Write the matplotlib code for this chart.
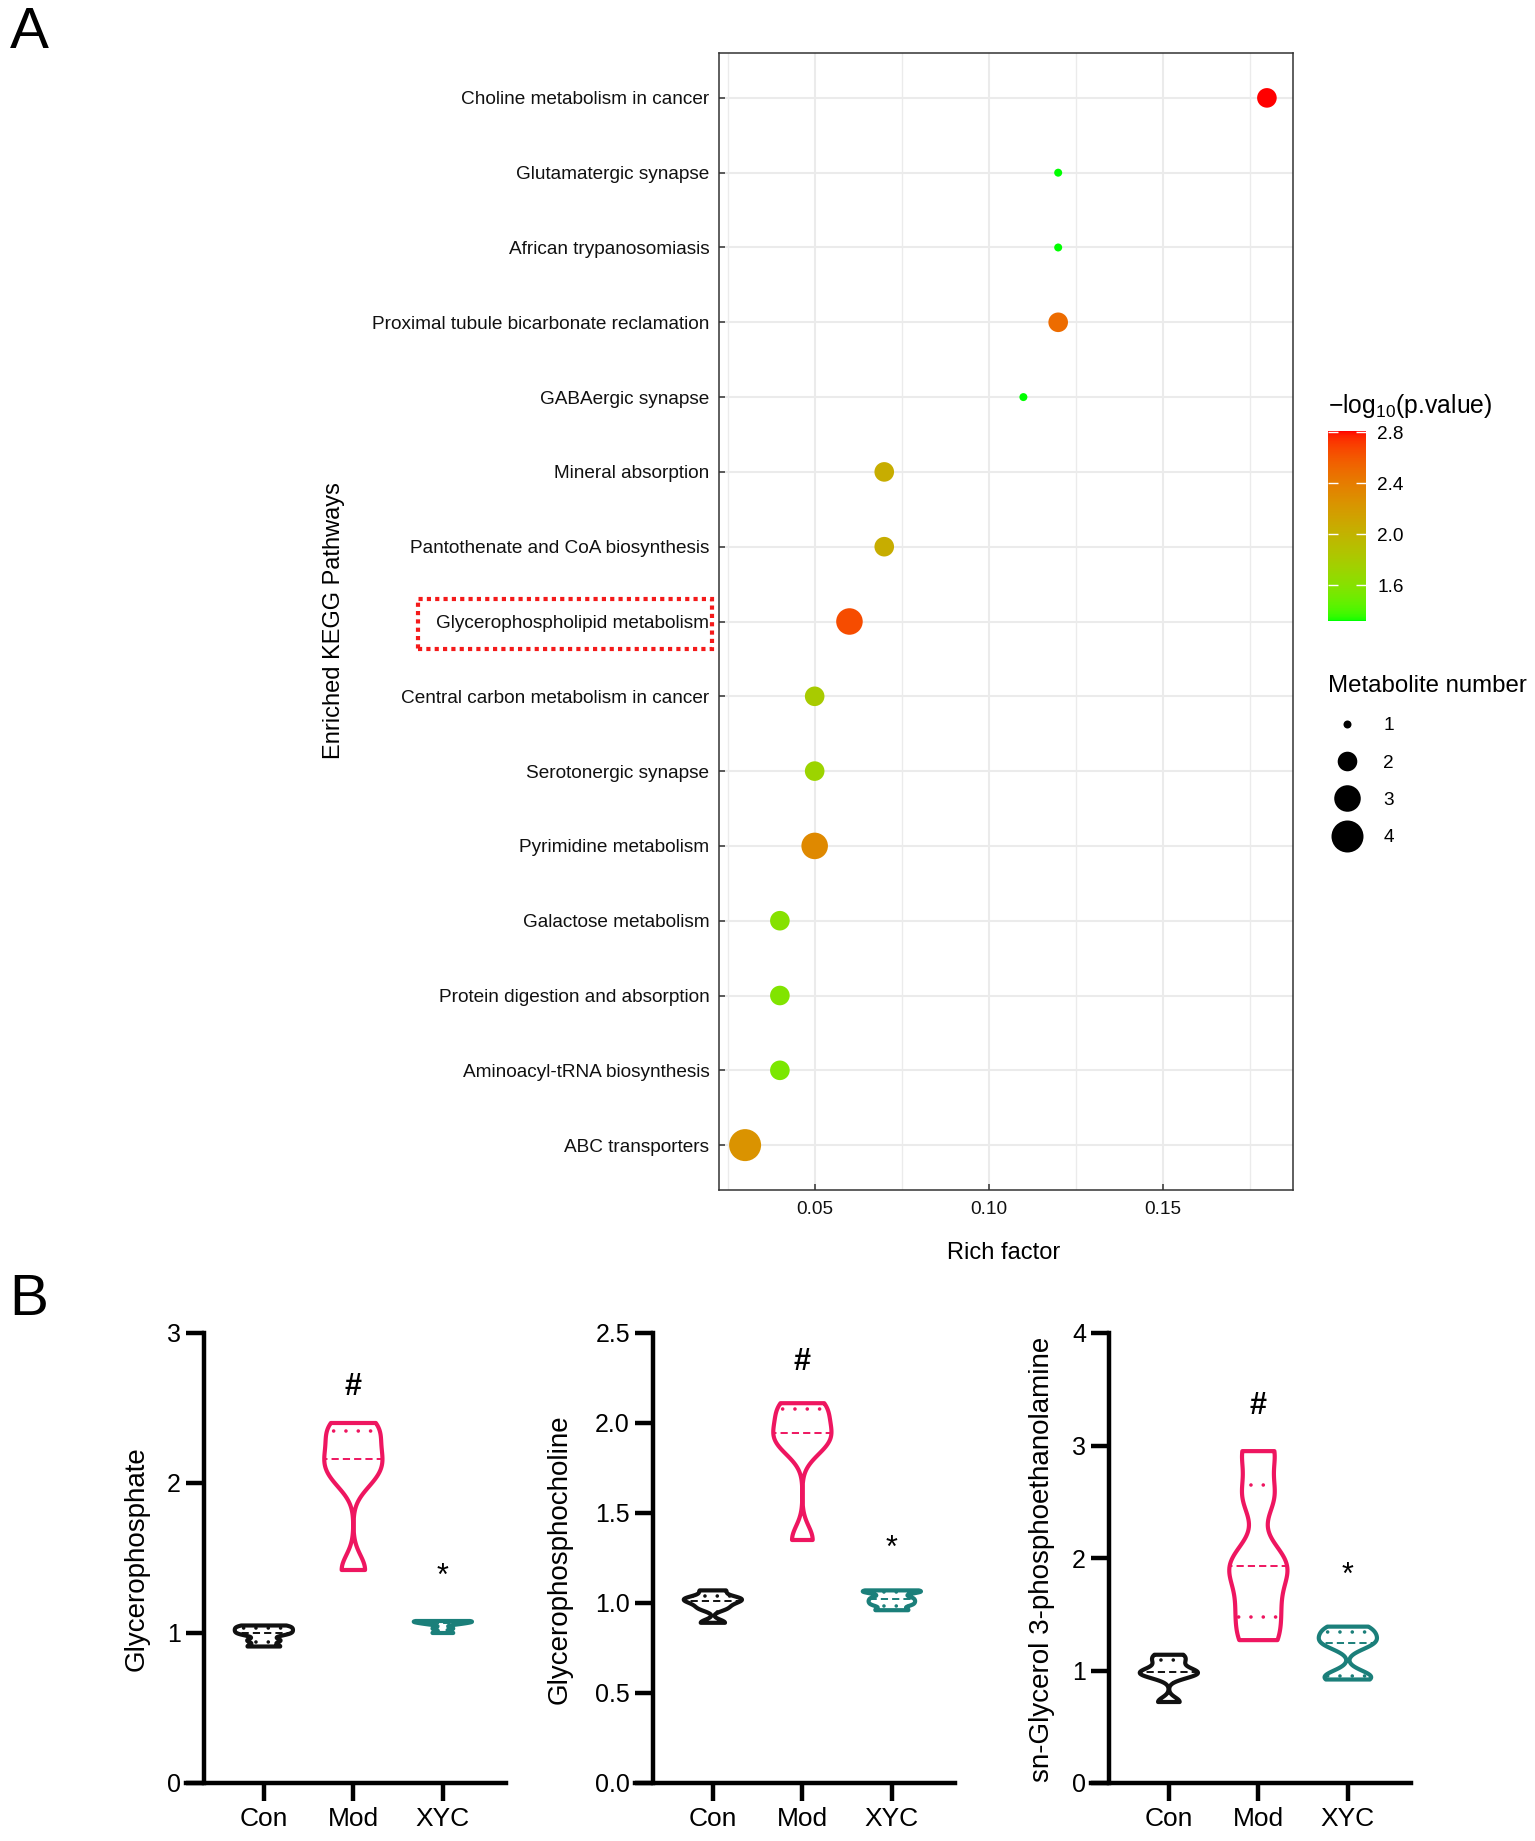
import numpy as np
import matplotlib
matplotlib.use('Agg')
import matplotlib.pyplot as plt
from matplotlib.colors import ListedColormap
from matplotlib.lines import Line2D
from matplotlib.patches import Rectangle
from matplotlib.ticker import FormatStrFormatter

plt.rcParams['font.family'] = ['Liberation Sans', 'DejaVu Sans']
plt.rcParams['mathtext.default'] = 'regular'

# ---- panel A data (KEGG enrichment) ----
pathways = [
    'Choline metabolism in cancer',
    'Glutamatergic synapse',
    'African trypanosomiasis',
    'Proximal tubule bicarbonate reclamation',
    'GABAergic synapse',
    'Mineral absorption',
    'Pantothenate and CoA biosynthesis',
    'Glycerophospholipid metabolism',
    'Central carbon metabolism in cancer',
    'Serotonergic synapse',
    'Pyrimidine metabolism',
    'Galactose metabolism',
    'Protein digestion and absorption',
    'Aminoacyl-tRNA biosynthesis',
    'ABC transporters',
]
rich_factor = [0.18, 0.12, 0.12, 0.12, 0.11, 0.07, 0.07, 0.06, 0.05, 0.05, 0.05, 0.04, 0.04, 0.04, 0.03]
neg_log_p = [2.81, 1.32, 1.32, 2.50, 1.32, 2.05, 2.05, 2.65, 1.80, 1.72, 2.32, 1.60, 1.58, 1.55, 2.25]
metab_num = [2, 1, 1, 2, 1, 2, 2, 3, 2, 2, 3, 2, 2, 2, 4]
highlight = 'Glycerophospholipid metabolism'

# ---- panel B data (relative levels, one list per group: Con, Mod, XYC) ----
groups = ['Con', 'Mod', 'XYC']
glycerophosphate = [
    [0.91, 0.95, 0.99, 1.01, 1.03, 1.05],
    [1.42, 2.02, 2.12, 2.20, 2.33, 2.40],
    [1.00, 1.03, 1.06, 1.07, 1.08, 1.08],
]
glycerophosphocholine = [
    [0.89, 0.97, 1.00, 1.02, 1.03, 1.07],
    [1.35, 1.86, 1.92, 1.97, 2.07, 2.11],
    [0.96, 0.99, 1.01, 1.03, 1.06, 1.07],
]
glycerol_pe = [
    [0.72, 0.95, 0.98, 1.00, 1.08, 1.14],
    [1.27, 1.55, 1.85, 2.00, 2.55, 2.95],
    [0.92, 0.96, 1.22, 1.27, 1.33, 1.39],
]
group_colors = ['#111111', '#EE1660', '#1B7F7A']


def srgb_to_lab(c):
    c = np.asarray(c, float)
    lin = np.where(c <= 0.04045, c / 12.92, ((c + 0.055) / 1.055) ** 2.4)
    xyz = M_RGB2XYZ @ lin / WHITE
    f = np.where(xyz > (6 / 29) ** 3, np.cbrt(xyz), xyz / (3 * (6 / 29) ** 2) + 4 / 29)
    return np.array([116 * f[1] - 16, 500 * (f[0] - f[1]), 200 * (f[1] - f[2])])


def lab_to_srgb(lab):
    L, a, b = lab
    fy = (L + 16) / 116
    f = np.array([fy + a / 500, fy, fy - b / 200])
    xyz = np.where(f > 6 / 29, f ** 3, 3 * (6 / 29) ** 2 * (f - 4 / 29)) * WHITE
    lin = np.linalg.solve(M_RGB2XYZ, xyz)
    lin = np.clip(lin, 0, None)
    c = np.where(lin <= 0.0031308, 12.92 * lin, 1.055 * lin ** (1 / 2.4) - 0.055)
    return np.clip(c, 0, 1)


M_RGB2XYZ = np.array([[0.4124, 0.3576, 0.1805],
                      [0.2126, 0.7152, 0.0722],
                      [0.0193, 0.1192, 0.9505]])
WHITE = np.array([0.95047, 1.0, 1.08883])

# green -> red gradient interpolated in Lab (like ggplot)
lab_lo = srgb_to_lab([0, 1, 0])
lab_hi = srgb_to_lab([1, 0, 0])
cmap = ListedColormap([lab_to_srgb(lab_lo + t * (lab_hi - lab_lo)) for t in np.linspace(0, 1, 256)])

W, H, DPI = 1535, 1841, 100
fig = plt.figure(figsize=(W / DPI, H / DPI), dpi=DPI)


def rect(x0, y0, x1, y1):
    return [x0 / W, 1 - y1 / H, (x1 - x0) / W, (y1 - y0) / H]


# ================= Panel A =================
ax = fig.add_axes(rect(719, 53, 1293, 1190))
n = len(pathways)
ypos = np.arange(n)[::-1]

# point diameter in px, area-scaled between 8 and 32 px
nmin, nmax = min(metab_num), max(metab_num)
diam = np.sqrt(8 ** 2 + (32 ** 2 - 8 ** 2) * (np.array(metab_num) - nmin) / (nmax - nmin))
sizes = (diam * 72 / DPI) ** 2

sc = ax.scatter(rich_factor, ypos, c=neg_log_p, cmap=cmap, s=sizes,
                vmin=min(neg_log_p), vmax=max(neg_log_p), edgecolors='none', zorder=3)

lo, hi = min(rich_factor), max(rich_factor)
ax.set_xlim(lo - 0.05 * (hi - lo), hi + 0.05 * (hi - lo))
ax.set_ylim(-0.6, n - 0.4)
ax.set_yticks(ypos)
ax.set_yticklabels(pathways)
ax.set_xticks([0.05, 0.10, 0.15])
ax.set_xticklabels(['0.05', '0.10', '0.15'])
ax.set_xticks([0.025, 0.075, 0.125, 0.175], minor=True)
ax.grid(which='major', color='#EBEBEB', lw=1.5, zorder=0)
ax.grid(which='minor', axis='x', color='#EBEBEB', lw=1.0, zorder=0)
ax.set_axisbelow(True)
ax.tick_params(which='major', direction='in', length=4.5, width=1.1, color='#333333',
               labelsize=13.7, labelcolor='#111111')
ax.tick_params(axis='y', pad=7)
ax.tick_params(axis='x', pad=8)
ax.tick_params(which='minor', length=0)
for s in ax.spines.values():
    s.set_color('#333333')
    s.set_linewidth(1.1)

fig.text(1004 / W, 1 - 1253 / H, 'Rich factor', fontsize=17, ha='center', va='center')
fig.text(334 / W, 1 - 621 / H, 'Enriched KEGG Pathways', fontsize=17, rotation=90,
         ha='center', va='center')

# colour bar
cax = fig.add_axes(rect(1328, 431, 1366, 621))
cb = fig.colorbar(sc, cax=cax, ticks=[1.6, 2.0, 2.4, 2.8])
cb.outline.set_visible(False)
cb.ax.tick_params(direction='in', color='white', length=7, width=1, left=True, right=True,
                  labelsize=13.7, pad=8)
cb.ax.set_yticklabels(['1.6', '2.0', '2.4', '2.8'])
fig.text(1328 / W, 1 - 406 / H, '\u2212log$_{10}$(p.value)', fontsize=17.8, ha='left', va='center')

# size legend
levels = list(range(nmin, nmax + 1))
handles = []
for v in levels:
    d = np.sqrt(8 ** 2 + (32 ** 2 - 8 ** 2) * (v - nmin) / (nmax - nmin))
    handles.append(Line2D([], [], ls='', marker='o', color='black', markeredgewidth=0,
                          markersize=d * 72 / DPI))
fig.legend(handles, [str(v) for v in levels], loc='upper left',
           bbox_to_anchor=(1328 / W, 1 - 675 / H), title='Metabolite number', frameon=False,
           fontsize=13.7, title_fontsize=17.3, alignment='left', borderpad=0, borderaxespad=0,
           handlelength=2.0, handletextpad=0.9, labelspacing=1.05)

fig.text(29 / W, 1 - 33 / H, 'A', fontsize=42, ha='center', va='center')

# dotted box around the highlighted pathway label
fig.canvas.draw()
lab = ax.get_yticklabels()[pathways.index(highlight)]
bb = lab.get_window_extent()
yc = (bb.y0 + bb.y1) / 2
x0, x1 = bb.x0 - 18, bb.x1 + 3
fig.add_artist(Rectangle((x0 / W, (yc - 25) / H), (x1 - x0) / W, 50 / H,
                         transform=fig.transFigure, fill=False, ec='#F41A1A', lw=3,
                         ls=(0, (1, 1))))

# ================= Panel B =================
fig.text(29 / W, 1 - 1300 / H, 'B', fontsize=42, ha='center', va='center')

panels = [
    (186, 137, glycerophosphate, 'Glycerophosphate', 3, [0, 1, 2, 3], '%d', 2.64, 1.375),
    (635, 560, glycerophosphocholine, 'Glycerophosphocholine', 2.5,
     [0, 0.5, 1.0, 1.5, 2.0, 2.5], '%.1f', 2.34, 1.30),
    (1091, 1042, glycerol_pe, 'sn-Glycerol 3-phosphoethanolamine', 4, [0, 1, 2, 3, 4], '%d',
     3.35, 1.84),
]
unit = 89.5
xlo, xaxis, xhi = 0.13, 0.33, 3.70
for left, ylab_x, data, ylabel, ytop, yticks, fmt, y_hash, y_star in panels:
    bax = fig.add_axes(rect(left, 1333, left + (xhi - xlo) * unit, 1783))
    parts = bax.violinplot(data, positions=[1, 2, 3], widths=0.65, showextrema=False,
                           bw_method=0.28)
    for pos, body, col, vals in zip([1, 2, 3], parts['bodies'], group_colors, data):
        body.set_facecolor('none')
        body.set_edgecolor(col)
        body.set_linewidth(3.0)
        body.set_alpha(1)
        body.set_zorder(3)
        q1, med, q3 = np.percentile(vals, [25, 50, 75], method='weibull')
        clip = body.get_paths()[0]
        ln, = bax.plot([pos - 0.5, pos + 0.5], [med, med], color=col, lw=1.4,
                       ls=(0, (3.7, 2.1)), zorder=2)
        ln.set_clip_path(clip, bax.transData)
        for q in (q1, q3):
            lq, = bax.plot([pos - 0.5, pos + 0.5], [q, q], color=col, lw=2.6,
                           ls=(0, (0.01, 3.4)), dash_capstyle='round', zorder=2)
            lq.set_clip_path(clip, bax.transData)
    bax.set_xlim(xlo, xhi)
    bax.set_ylim(0, ytop)
    bax.set_xticks([1, 2, 3])
    bax.set_xticklabels(groups)
    bax.set_yticks(yticks)
    bax.yaxis.set_major_formatter(FormatStrFormatter(fmt))
    bax.spines['top'].set_visible(False)
    bax.spines['right'].set_visible(False)
    bax.spines['left'].set_position(('data', xaxis))
    for s in ('left', 'bottom'):
        bax.spines[s].set_linewidth(3.2)
        bax.spines[s].set_capstyle('projecting')
    bax.tick_params(length=13, width=3.2, color='black')
    bax.tick_params(axis='y', labelsize=18, pad=3.5)
    bax.tick_params(axis='x', labelsize=19, pad=4)
    bax.patch.set_visible(False)
    bax.text(2, y_hash, '#', fontsize=22, fontweight='bold', ha='center', va='center')
    bax.text(3, y_star, '*', fontsize=22, ha='center', va='center')
    fig.text(ylab_x / W, 1 - 1559 / H, ylabel, fontsize=20, rotation=90,
             ha='center', va='center')

fig.savefig('out.png', dpi=DPI)
